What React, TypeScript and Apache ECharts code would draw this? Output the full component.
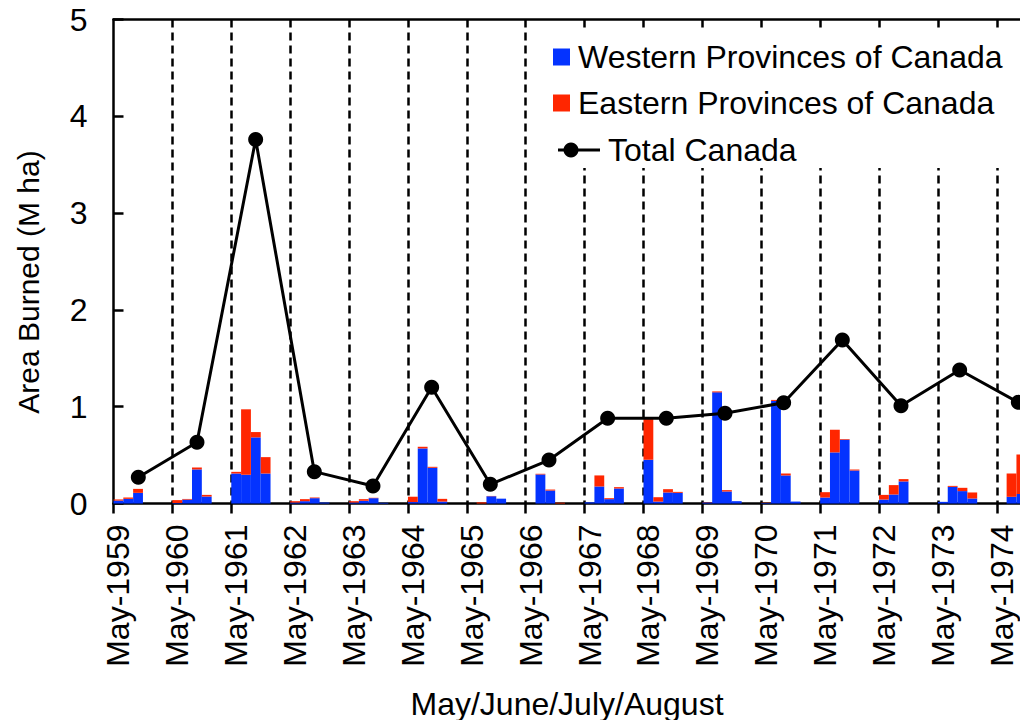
import React, { useEffect, useRef } from "react";
import * as echarts from "echarts";

const years = [1959, 1960, 1961, 1962, 1963, 1964, 1965, 1966, 1967, 1968, 1969, 1970, 1971, 1972, 1973, 1974];
const slotMonths = ["May", "Jun", "Jul", "Aug", "Sep", "Oct"];

// Monthly area burned (M ha), May..Aug of each year
const western = [
  [0.03, 0.048, 0.11, 0],
  [0.005, 0.04, 0.352, 0.072],
  [0.31, 0.297, 0.683, 0.31],
  [0.01, 0.024, 0.055, 0.01],
  [0.01, 0.028, 0.055, 0.007],
  [0.015, 0.569, 0.369, 0.02],
  [0, 0, 0.075, 0.05],
  [0, 0.3, 0.134, 0],
  [0.012, 0.176, 0.045, 0.155],
  [0.452, 0.02, 0.114, 0.11],
  [0.01, 1.148, 0.124, 0.024],
  [0.005, 1.06, 0.29, 0.02],
  [0.062, 0.528, 0.659, 0.341],
  [0.041, 0.093, 0.228, 0],
  [0.017, 0.172, 0.128, 0.052],
  [0, 0.069, 0.097, 0],
];
const eastern = [
  [0.012, 0.014, 0.041, 0],
  [0.03, 0.007, 0.02, 0.017],
  [0.017, 0.676, 0.055, 0.169],
  [0.014, 0.021, 0.007, 0],
  [0.014, 0.017, 0.004, 0],
  [0.055, 0.017, 0.01, 0.028],
  [0, 0.012, 0.003, 0],
  [0, 0.007, 0.01, 0.008],
  [0, 0.114, 0.01, 0.014],
  [0.42, 0.045, 0.034, 0.01],
  [0.003, 0.01, 0.014, 0],
  [0.003, 0.01, 0.02, 0],
  [0.055, 0.234, 0.007, 0.01],
  [0.048, 0.097, 0.024, 0],
  [0, 0.01, 0.034, 0.062],
  [0, 0.241, 0.41, 0],
];
const totalCanada = [0.271, 0.632, 3.76, 0.329, 0.181, 1.2, 0.198, 0.449, 0.88, 0.88, 0.932, 1.041, 1.69, 1.01, 1.379, 1.045];
const yTicks = [0, 1, 2, 3, 4, 5];
const seriesNames = ["Western Provinces of Canada", "Eastern Provinces of Canada", "Total Canada"];

const FONT = "'Liberation Sans', Arial, Helvetica, sans-serif";
const FS = 32;

export default function App() {
  const ref = useRef<HTMLDivElement>(null);
  useEffect(() => {
    if (!ref.current) return;
    const chart = echarts.init(ref.current, undefined, { renderer: "svg" });

    const categories: string[] = [];
    const wData: (number | null)[] = [];
    const eData: (number | null)[] = [];
    years.forEach((y, i) => {
      slotMonths.forEach((m, j) => {
        categories.push(`${m}-${y}`);
        wData.push(j < 4 ? western[i][j] : null);
        eData.push(j < 4 ? eastern[i][j] : null);
      });
    });
    const lineData = years.map((y, i) => [y, totalCanada[i]]);

    chart.setOption({
      animation: false,
      textStyle: { fontFamily: FONT },
      grid: {
        left: 113.5,
        top: 19.5,
        width: 942.2,
        height: 484,
        containLabel: false,
        outerBoundsMode: "none",
      },
      legend: [
        {
          data: [seriesNames[0], seriesNames[1]],
          orient: "vertical",
          left: 553,
          top: 41,
          padding: 0,
          itemWidth: 17,
          itemHeight: 17,
          itemGap: 14,
          icon: "rect",
          textStyle: { fontSize: FS, color: "#000", fontFamily: FONT, padding: [0, 0, 0, 3] },
          selectedMode: false,
          z: 5,
        },
      ],
      xAxis: [
        {
          type: "category",
          data: categories,
          boundaryGap: true,
          axisLine: { show: true, lineStyle: { color: "#000", width: 2.5 } },
          axisTick: {
            show: true,
            length: 10,
            lineStyle: { color: "#000", width: 2.5 },
            interval: (idx: number) => idx % 6 === 0,
          },
          axisLabel: {
            show: true,
            rotate: 90,
            interval: (idx: number) => idx % 6 === 0,
            fontSize: FS,
            color: "#000",
            fontFamily: FONT,
            margin: 21,
            padding: [7, 0, 0, 0],
          },
          splitLine: {
            show: true,
            interval: (idx: number) => idx % 6 === 0 && idx > 0,
            lineStyle: { color: "#000", width: 2.5, type: [8, 5] },
          },
        },
        {
          type: "value",
          position: "top",
          min: 1958.577,
          max: 1974.637,
          axisLine: { show: true, onZero: false, lineStyle: { color: "#000", width: 2.5 } },
          axisTick: { show: false },
          axisLabel: { show: false },
          splitLine: { show: false },
        },
      ],
      yAxis: {
        type: "value",
        min: 0,
        max: 5,
        interval: 1,
        axisLine: { show: true, lineStyle: { color: "#000", width: 2.5 } },
        axisTick: { show: true, inside: true, length: 10, lineStyle: { color: "#000", width: 2.5 } },
        axisLabel: {
          fontSize: FS,
          color: "#000",
          fontFamily: FONT,
          margin: 26,
          formatter: (v: number) => (yTicks.includes(v) ? String(v) : ""),
        },
        splitLine: { show: false },
      },
      series: [
        {
          name: seriesNames[0],
          type: "bar",
          stack: "area",
          data: wData,
          barCategoryGap: "0%",
          itemStyle: { color: "#0433ff" },
        },
        {
          name: seriesNames[1],
          type: "bar",
          stack: "area",
          data: eData,
          barCategoryGap: "0%",
          itemStyle: { color: "#ff2600" },
        },
        {
          name: seriesNames[2],
          type: "line",
          xAxisIndex: 1,
          data: lineData,
          symbol: "circle",
          symbolSize: 15,
          lineStyle: { color: "#000", width: 3 },
          itemStyle: { color: "#000" },
          z: 5,
        },
      ],
      graphic: [
        {
          type: "rect",
          z: 3,
          silent: true,
          shape: { x: 546, y: 31, width: 474, height: 137 },
          style: { fill: "#fff" },
        },
        {
          type: "line",
          z: 4,
          shape: { x1: 558, y1: 150, x2: 600, y2: 150 },
          style: { stroke: "#000", lineWidth: 3 },
        },
        {
          type: "circle",
          z: 4,
          shape: { cx: 571, cy: 150, r: 7.5 },
          style: { fill: "#000" },
        },
        {
          type: "text",
          z: 4,
          x: 608,
          y: 150,
          style: {
            text: seriesNames[2],
            font: `${FS}px ${FONT}`,
            fill: "#000",
            textAlign: "left",
            textVerticalAlign: "middle",
          },
        },
        {
          type: "text",
          x: 567,
          y: 704,
          style: {
            text: "May/June/July/August",
            font: `${FS}px ${FONT}`,
            fill: "#000",
            textAlign: "center",
            textVerticalAlign: "middle",
          },
        },
        {
          type: "text",
          x: 28,
          y: 282,
          rotation: Math.PI / 2,
          style: {
            text: "Area Burned (M ha)",
            font: `30px ${FONT}`,
            fill: "#000",
            textAlign: "center",
            textVerticalAlign: "middle",
          },
        },
      ],
    });
    return () => chart.dispose();
  }, []);
  return <div ref={ref} style={{ width: 1028, height: 728, margin: -8 }} />;
}
